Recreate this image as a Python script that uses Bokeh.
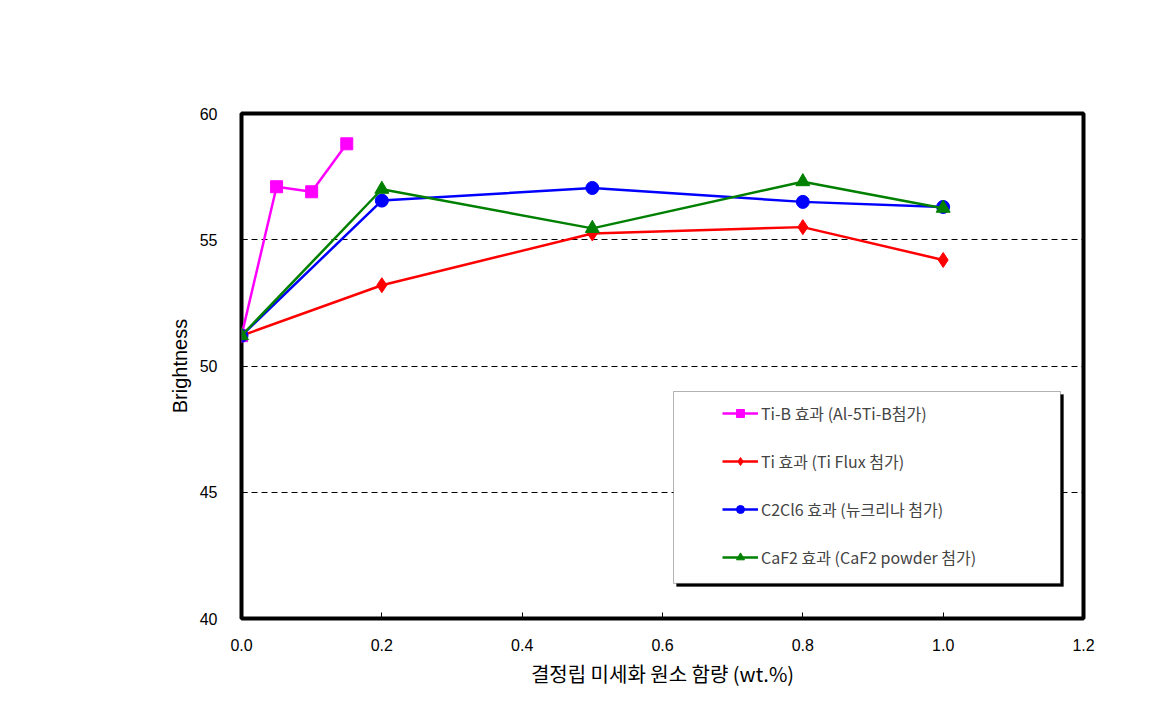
from bokeh.plotting import figure
from bokeh.models import FixedTicker, NumeralTickFormatter, Legend, LegendItem, BoxAnnotation, Range1d
from bokeh.embed import file_html
from bokeh.resources import INLINE

# Data
tib_x = [0.0, 0.05, 0.10, 0.15]
tib_y = [51.2, 57.1, 56.9, 58.8]
ti_x = [0.0, 0.2, 0.5, 0.8, 1.0]
ti_y = [51.2, 53.2, 55.25, 55.5, 54.2]
c2_x = [0.0, 0.2, 0.5, 0.8, 1.0]
c2_y = [51.2, 56.55, 57.05, 56.5, 56.3]
caf_x = [0.0, 0.2, 0.5, 0.8, 1.0]
caf_y = [51.2, 57.0, 55.45, 57.3, 56.25]
labels = ["Ti-B 효과 (Al-5Ti-B첨가)", "Ti 효과 (Ti Flux 첨가)",
          "C2Cl6 효과 (뉴크리나 첨가)", "CaF2 효과 (CaF2 powder 첨가)"]
x_ticks = [0.0, 0.2, 0.4, 0.6, 0.8, 1.0, 1.2]
y_ticks = [40, 45, 50, 55, 60]

KR = "Noto Sans CJK KR"
AR = "Liberation Sans"

p = figure(width=1160, height=695, output_backend="svg", toolbar_location=None,
           x_range=Range1d(0, 1.2), y_range=Range1d(40, 60),
           min_border_left=241, min_border_top=113, min_border_right=77, min_border_bottom=77)
p.outline_line_color = "black"
p.outline_line_width = 4

p.xaxis.ticker = FixedTicker(ticks=x_ticks)
p.xaxis.formatter = NumeralTickFormatter(format="0.0")
p.yaxis.ticker = FixedTicker(ticks=y_ticks)
for ax in (p.xaxis[0], p.yaxis[0]):
    ax.axis_line_color = None
    ax.minor_tick_line_color = None
    ax.major_label_text_font_size = "16px"
    ax.major_label_text_color = "black"
    ax.axis_label_text_font_style = "normal"
    ax.axis_label_text_color = "black"
    ax.major_tick_in = 6
    ax.major_tick_out = 0
    ax.major_tick_line_color = "black"
p.xaxis.major_label_standoff = 20
p.xaxis.major_label_text_font = AR
p.xaxis.axis_label = "결정립 미세화 원소 함량 (wt.%)"
p.xaxis.axis_label_text_font = KR
p.xaxis.axis_label_text_font_size = "20px"
p.xaxis.axis_label_standoff = 5
p.yaxis.major_label_standoff = 24
p.yaxis.major_label_text_font = AR
p.yaxis.axis_label = "Brightness"
p.yaxis.axis_label_text_font = AR
p.yaxis.axis_label_text_font_size = "20px"
p.yaxis.axis_label_standoff = 6

p.xgrid.grid_line_color = None
p.ygrid.grid_line_color = "black"
p.ygrid.grid_line_dash = "6 4"
p.ygrid.grid_line_width = 1

# legend box with shadow
p.add_layout(BoxAnnotation(left=0.6157 + 0.0043, right=1.1672 + 0.0043, bottom=41.39 - 0.12, top=48.99 - 0.12,
                           fill_color="black", fill_alpha=1, line_color="black"))
p.add_layout(BoxAnnotation(left=0.6157, right=1.1672, bottom=41.39, top=48.99,
                           fill_color="white", fill_alpha=1, line_color="black", line_width=1))

r1l = p.line(tib_x, tib_y, line_color="#FF00FF", line_width=2.5)
r1m = p.scatter(tib_x, tib_y, marker="square", size=12, fill_color="#FF00FF", line_color="#FF00FF")
r2l = p.line(ti_x, ti_y, line_color="#FF0000", line_width=2.5)
r2m = p.scatter(ti_x, ti_y, marker="diamond", size=15, fill_color="#FF0000", line_color="#FF0000")
r3l = p.line(c2_x, c2_y, line_color="#0000FF", line_width=2.5)
r3m = p.scatter(c2_x, c2_y, marker="circle", size=13, fill_color="#0000FF", line_color="#0000FF")
r4l = p.line(caf_x, caf_y, line_color="#008000", line_width=2.5)
r4m = p.scatter(caf_x, caf_y, marker="triangle", size=14, fill_color="#008000", line_color="#008000")

legend = Legend(items=[
    LegendItem(label=labels[0], renderers=[r1l, r1m]),
    LegendItem(label=labels[1], renderers=[r2l, r2m]),
    LegendItem(label=labels[2], renderers=[r3l, r3m]),
    LegendItem(label=labels[3], renderers=[r4l, r4m]),
], location=(481, 49), padding=0, spacing=24, glyph_width=36, glyph_height=20,
    label_height=20, label_standoff=3, label_text_font=KR, label_text_font_size="16px",
    background_fill_alpha=0, border_line_color=None)
p.add_layout(legend)

open("out.html", "w").write(file_html(p, INLINE))
